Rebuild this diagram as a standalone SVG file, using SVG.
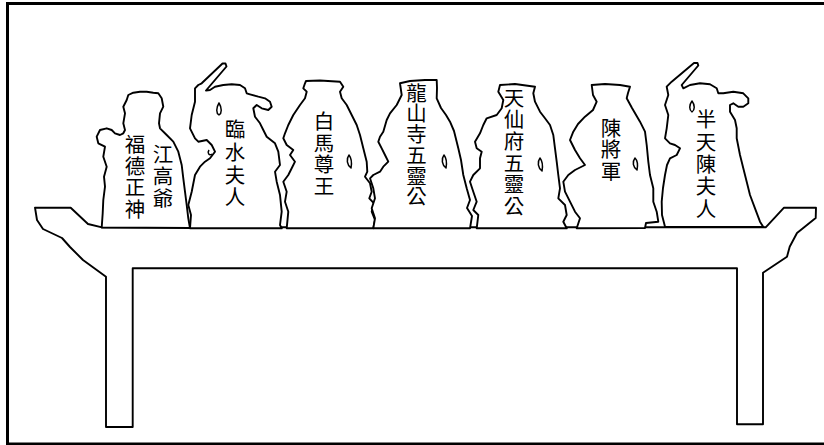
<svg xmlns="http://www.w3.org/2000/svg" width="824" height="445" viewBox="0 0 824 445">
<style>
.ol{fill:#fff;stroke:#000;stroke-width:1.9;stroke-linejoin:round;stroke-linecap:round}
.fl{fill:none;stroke:#000;stroke-width:1.5;stroke-linejoin:round}
.lb{font-family:"Noto Sans CJK TC","Noto Sans CJK SC",sans-serif;font-size:20.5px;fill:#000;text-anchor:middle}
</style>
<rect x="0" y="0" width="824" height="445" fill="#fff"/>
<rect x="7.5" y="3.5" width="830" height="440.5" fill="none" stroke="#000" stroke-width="3"/>
<g id="altar">
<path class="ol" d="M35,207.7 L70.7,207.7 L88,224 L102,227.3 L765.7,227.3 L775.7,216.7 L784,207.7 L816,207.7 L815.7,218 L797,233 L789.7,246.7 L787,256.7 L763,272.7 L763,424.3 L737,424.3 L737,268.3 L132.7,268.3 L132.7,427 L106,427 L106,276.7 L83,260 L70,247 L62,238 L43,229 L37,220 Z"/>
</g>
<g id="statue1">
<path class="ol" d="M101.7,227.5 L102.7,213.3 L103.3,200 L105,186.7 L104,176.7 L106.7,166.7 L103.3,156.7 L105,146.7 L98.3,143.3 L96.7,136.7 L100,130 L106.7,128.3 L111.7,130 L115,133.3 L120,135 L123.3,133.3 L125,130 L123.3,123.3 L125,113.3 L123.3,106.7 L126.7,100 L128.3,95 L133.3,92.7 L140,91.7 L146.7,91.7 L153.3,92.7 L158.3,93.3 L161.7,98.3 L163.3,106.7 L160,113.3 L159,123.3 L160,128.3 L166.7,135 L173.3,141.7 L178.3,151.7 L181.7,165 L183.3,178.3 L185,191.7 L186.7,205 L188.3,218.3 L190,228 Z"/>
<text class="lb"><tspan x="135" y="152.4">福</tspan><tspan x="135" dy="21.5">德</tspan><tspan x="135" dy="21.5">正</tspan><tspan x="135" dy="21.5">神</tspan></text>
<text class="lb"><tspan x="163" y="162.4">江</tspan><tspan x="163" dy="21.7">高</tspan><tspan x="163" dy="21.7">爺</tspan></text>
</g>
<g id="statue2">
<path class="ol" d="M190,228.3 L191,215 L188.3,205 L191.7,191.7 L195,175 L200,166.7 L205,161.7 L210,158.3 L215,151.7 L211.7,145 L206.7,140 L198.3,141.7 L195,138.3 L190,128.3 L191.7,115 L195,101.7 L195,88.3 L198.3,85 L201.7,83.3 L222.5,63.5 L225.5,63.5 L226.5,66.5 L206,90.5 L210,90 L215,86.7 L223.3,85 L231.7,84.3 L240,85 L245,88.3 L246.7,93.3 L250,94.3 L258.3,96.7 L265,98.3 L270,101.7 L271.7,106.7 L268.3,110 L261.7,108.3 L256.7,105 L253.3,108.3 L255,116.7 L260,123.3 L263.3,130 L266.7,136.7 L275,143.3 L278.3,151.7 L280,165 L275,171.7 L276.7,181.7 L280,195 L281.7,211.7 L280,225 L281.7,228.3 Z"/>
<path class="fl" d="M209,150 C207,153 209,156 212,154"/>
<path class="fl" d="M219,103 C216,108 216,113 219,115 C222,113 222,108 219,103 Z"/>
<text class="lb"><tspan x="235" y="137.4">臨</tspan><tspan x="235" dy="22.6">水</tspan><tspan x="235" dy="22.6">夫</tspan><tspan x="235" dy="22.6">人</tspan></text>
</g>
<g id="statue3">
<path class="ol" d="M286.7,228.3 L288.3,211.7 L285,201.7 L286.7,191.7 L283.3,181.7 L288.3,175 L291.7,168.3 L295,161.7 L290,155 L293.3,150 L286.7,145 L283.3,138.3 L285,133.3 L288.3,125 L293.3,115 L300,105 L305,98.3 L306.7,91.7 L303.3,88.3 L305,83.3 L306,81 L320,80.5 L340,81.7 L343.3,86.7 L340,91.7 L341.7,98.3 L346.7,105 L351.7,115 L356.7,125 L360,135 L363.3,148.3 L366.7,161.7 L367.3,171.7 L365,176.7 L370,183.3 L371.7,191.7 L369.3,198.3 L374,203.3 L371.7,211.7 L375,220 L373.3,228.3 Z"/>
<path class="fl" d="M349,155 C346,159 347,165 351,168 C352,163 352,159 349,155 Z"/>
<text class="lb"><tspan x="324" y="129">白</tspan><tspan x="324" dy="21.7">馬</tspan><tspan x="324" dy="21.7">尊</tspan><tspan x="324" dy="21.7">王</tspan></text>
</g>
<g id="statue4">
<path class="ol" d="M373.3,228.3 L375,218.3 L371.7,208.3 L375,198.3 L373.3,188.3 L370,178.3 L373.3,175 L380,171.7 L383.3,166.7 L388.3,161.7 L385,155 L381.7,148.3 L378.3,141.7 L380,136.7 L383.3,131.7 L386.7,120 L390,113.3 L396.7,105 L401.7,95 L400,83.3 L410,81 L425,80 L436.7,80 L437,88 L436.7,98.3 L441,108 L446,115 L450,121.7 L454,131 L458.3,148.3 L461,160 L463.3,175 L466.7,188.3 L470,200 L467,208 L472,216 L470,228.3 Z"/>
<path class="fl" d="M444,155 C441,159 442,165 446,168 C447,163 447,159 444,155 Z"/>
<text class="lb"><tspan x="416.5" y="100.7">龍</tspan><tspan x="416.5" dy="20.7">山</tspan><tspan x="416.5" dy="20.7">寺</tspan><tspan x="416.5" dy="20.7">五</tspan><tspan x="416.5" dy="20.7">靈</tspan><tspan x="416.5" dy="20.7">公</tspan></text>
</g>
<g id="statue5">
<path class="ol" d="M476.7,228.3 L478.3,215 L473.3,210 L476.7,201.7 L473.3,191.7 L470,181.7 L473.3,175 L480,168.3 L480,158.3 L481.7,151.7 L476.7,148.3 L475,141.7 L480,133.3 L483.3,125 L486.7,118.3 L496.7,115 L501.7,108.3 L503.3,100 L498.3,91.7 L500,85 L515,84 L535,86.7 L533.3,93.3 L535,101.7 L540,111.7 L545,118.3 L550,125 L553.3,135 L555,148.3 L556.7,161.7 L558.3,175 L560,188.3 L558.3,198.3 L565,205 L566.7,215 L563.3,221.7 L566.7,228.3 Z"/>
<path class="fl" d="M540,158 C537,162 538,168 542,171 C543,166 543,162 540,158 Z"/>
<text class="lb"><tspan x="514" y="105.7">天</tspan><tspan x="514" dy="21.6">仙</tspan><tspan x="514" dy="21.6">府</tspan><tspan x="514" dy="21.6">五</tspan><tspan x="514" dy="21.6">靈</tspan><tspan x="514" dy="21.6">公</tspan></text>
</g>
<g id="statue6">
<path class="ol" d="M576.7,228.3 L580,218.3 L575,211.7 L570,201.7 L565,191.7 L563.3,181.7 L568.3,175 L575,170 L585,165 L580,158.3 L575,150 L570,140 L573.3,131.7 L578,124 L585,116.7 L593,110 L596.7,101.7 L593,95 L591.7,85 L605,84 L620,85 L630,86.7 L628,93 L626.7,98.3 L632,108 L640,121.7 L645,131.7 L646.7,145 L648.3,161.7 L650,175 L653.3,188.3 L653.3,201.7 L656.7,211.7 L658.3,221.7 L646,223 L645,228 Z"/>
<path class="fl" d="M635,158 C632,162 633,167 637,170 C638,165 638,161 635,158 Z"/>
<text class="lb"><tspan x="611" y="135.7">陳</tspan><tspan x="611" dy="21.7">將</tspan><tspan x="611" dy="21.7">軍</tspan></text>
</g>
<g id="statue7">
<path class="ol" d="M665,226.7 L662,215 L661.7,201.7 L663,188 L665,175 L667,165 L670,158.3 L676.7,155 L680,148.3 L675,145 L670,143.3 L665,138.3 L666.7,128.3 L668.3,115 L665,105 L668.3,95 L666.7,86.7 L671.7,81.7 L694,63 L697.5,63 L698.3,65.5 L681.7,85 L683.3,88.3 L690,85 L700,83.3 L710,84.3 L716.7,88.3 L718.3,93.3 L723.3,93.3 L733.3,91.7 L743.3,93.3 L748.3,98.3 L748.3,103.3 L743.3,106.7 L738.3,106.7 L733.3,103.3 L730,105 L730,111.7 L735,120 L736.7,128.3 L736.7,138.3 L740,155 L743.3,168.3 L746.7,181.7 L750,195 L755,208.3 L760,221.7 L763.3,227 Z"/>
<path class="fl" d="M692,101 C689,105 689,110 692,112 C695,110 695,105 692,101 Z"/>
<text class="lb"><tspan x="706" y="127.4">半</tspan><tspan x="706" dy="22.3">天</tspan><tspan x="706" dy="22.3">陳</tspan><tspan x="706" dy="22.3">夫</tspan><tspan x="706" dy="22.3">人</tspan></text>
</g>
<g id="connectors"></g>
</svg>
